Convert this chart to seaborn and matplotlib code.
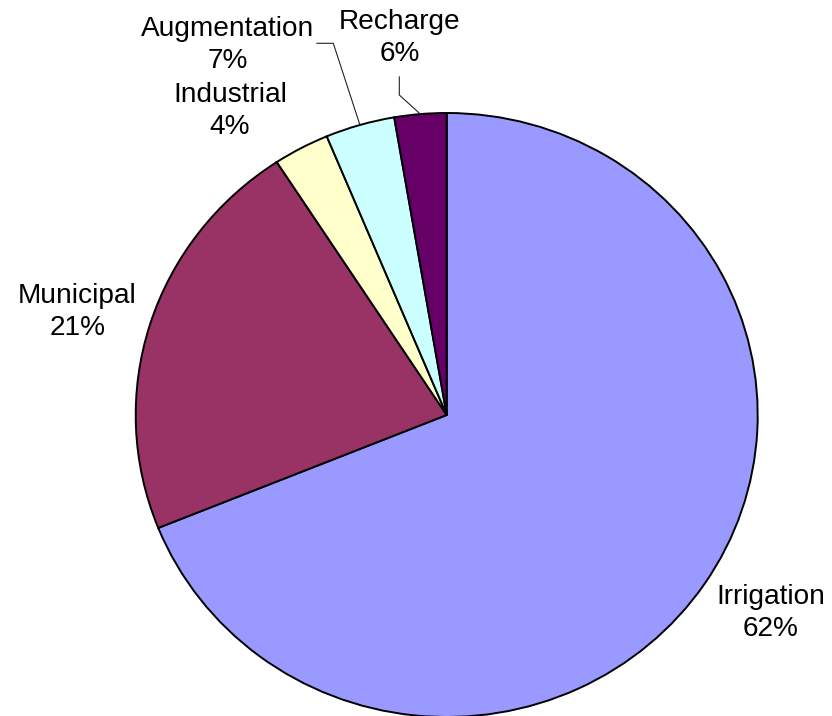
import numpy as np
import matplotlib
matplotlib.use('Agg')
import matplotlib.pyplot as plt
import seaborn as sns

# ---- data ----
categories = ['Irrigation', 'Municipal', 'Industrial', 'Augmentation', 'Recharge']
shares = [68.9, 21.9, 2.9, 3.6, 2.7]          # slice sizes as drawn
pct_labels = ['62%', '21%', '4%', '7%', '6%']  # percentages as printed
colors = ['#9999FF', '#993366', '#FFFFCC', '#CCFFFF', '#660066']

sns.set_theme(style='white')
plt.rcParams['font.family'] = ['Liberation Sans', 'DejaVu Sans']

W, H = 832, 716
CX, CY, RX, RY = 446.7, 415.0, 311.0, 302.0


def px(x, y):
    return ((x - CX) / RX, (CY - y) / RY)


fig = plt.figure(figsize=(W / 100, H / 100), dpi=100)
ax = fig.add_axes([0, 0, 1, 1])
wedges, _ = ax.pie(shares, colors=colors, startangle=90, counterclock=False,
                   radius=1, center=(0, 0),
                   wedgeprops=dict(edgecolor='black', linewidth=1.4))
ax.set_aspect('auto')
ax.set_xlim(px(0, 0)[0], px(W, 0)[0])
ax.set_ylim(px(0, H)[1], px(0, 0)[1])
ax.axis('off')

# label layout (pixel centres) and optional leader elbows
label_pos = {
    'Irrigation': (771, 613),
    'Municipal': (77.5, 312),
    'Industrial': (230, 111),
    'Augmentation': (227.5, 45),
    'Recharge': (400, 38),
}
leaders = {
    'Augmentation': [(316.7, 43.3), (333.3, 43.3)],
    'Recharge': [(399.3, 76.7), (399.3, 95.0)],
}

for w, cat, pct in zip(wedges, categories, pct_labels):
    x, y = px(*label_pos[cat])
    ax.text(x, y, f'{cat}\n{pct}', ha='center', va='center',
            fontsize=20.2, color='black', linespacing=1.3)
    if cat in leaders:
        mid = np.deg2rad((w.theta1 + w.theta2) / 2)
        pts = [px(*p) for p in leaders[cat]] + [(np.cos(mid), np.sin(mid))]
        xs, ys = zip(*pts)
        ax.plot(xs, ys, color='#222222', lw=0.8, clip_on=False)

fig.savefig('out.png', dpi=100, facecolor='white')
